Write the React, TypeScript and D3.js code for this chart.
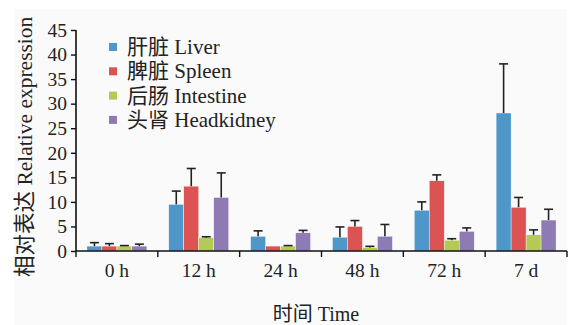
import React, { useRef, useEffect } from 'react';
import * as d3 from 'd3';

const categories = ['0 h', '12 h', '24 h', '48 h', '72 h', '7 d'];
const seriesNames = ['肝脏 Liver', '脾脏 Spleen', '后肠 Intestine', '头肾 Headkidney'];
const seriesColors = ['#4F97C9', '#DC5353', '#B4C956', '#8E7BB4'];

// mean values per series, one per time point
const liver = [1.0, 9.5, 3.0, 2.8, 8.3, 28.1];
const spleen = [1.0, 13.2, 1.0, 5.0, 14.3, 8.9];
const intestine = [1.0, 2.7, 1.0, 0.7, 2.2, 3.3];
const headkidney = [1.0, 10.9, 3.7, 3.0, 4.0, 6.3];

// upper error (SD) per series
const liverErr = [0.7, 2.7, 1.1, 2.1, 1.7, 10.0];
const spleenErr = [0.5, 3.6, 0, 1.2, 1.2, 2.0];
const intestineErr = [0.1, 0.2, 0.1, 0.25, 0.3, 1.0];
const headkidneyErr = [0.4, 5.0, 0.5, 2.4, 0.7, 2.2];

const yTicks = [0, 5, 10, 15, 20, 25, 30, 35, 40, 45];

const serif = '"Liberation Serif", "Times New Roman", "Noto Sans CJK SC", serif';

const App = () => {
    const svgRef = useRef(null);

    useEffect(() => {
        const svg = d3.select(svgRef.current);
        svg.selectAll('*').remove();

        const values = [liver, spleen, intestine, headkidney];
        const errors = [liverErr, spleenErr, intestineErr, headkidneyErr];

        const x = d3.scaleBand().domain(categories).range([76, 567]).paddingInner(0).paddingOuter(0);
        const xInner = d3.scaleBand().domain(seriesNames).range([0, x.bandwidth()]).paddingInner(0).paddingOuter(0.73);
        const y = d3.scaleLinear().domain([0, 45]).range([251, 30]);

        // light panel background
        svg.append('rect')
            .attr('x', 14).attr('y', 9)
            .attr('width', 553).attr('height', 316)
            .attr('fill', '#FAFAFA');

        // bars
        seriesNames.forEach((name, si) => {
            const g = svg.append('g');
            categories.forEach((cat, ci) => {
                const v = values[si][ci];
                const bx = x(cat) + xInner(name);
                g.append('rect')
                    .attr('x', bx)
                    .attr('y', y(v))
                    .attr('width', xInner.bandwidth())
                    .attr('height', y(0) - y(v))
                    .attr('fill', seriesColors[si])
                    .attr('stroke', '#ffffff')
                    .attr('stroke-width', 0.4);

                const e = errors[si][ci];
                if (e > 0) {
                    const cx = bx + xInner.bandwidth() / 2;
                    g.append('line')
                        .attr('x1', cx).attr('x2', cx)
                        .attr('y1', y(v)).attr('y2', y(v + e))
                        .attr('stroke', '#222').attr('stroke-width', 1.6);
                    g.append('line')
                        .attr('x1', cx - 4.5).attr('x2', cx + 4.5)
                        .attr('y1', y(v + e)).attr('y2', y(v + e))
                        .attr('stroke', '#222').attr('stroke-width', 1.6);
                }
            });
        });

        // y axis
        const yAxis = d3.axisLeft(y).tickValues(yTicks).tickSize(5).tickSizeOuter(0).tickPadding(4);
        const ya = svg.append('g').attr('transform', 'translate(76,0)').call(yAxis);
        ya.select('.domain').attr('stroke', '#111').attr('stroke-width', 1.6).attr('d', `M0,${y(45)}V${y(0)}`);
        ya.selectAll('.tick line').attr('stroke', '#111').attr('stroke-width', 1.4);
        ya.selectAll('.tick text')
            .attr('font-family', serif).attr('font-size', 19.5).attr('fill', '#222');

        // x axis: ticks at category boundaries
        svg.append('line')
            .attr('x1', 76).attr('x2', 567)
            .attr('y1', y(0)).attr('y2', y(0))
            .attr('stroke', '#111').attr('stroke-width', 1.6);
        const bounds = categories.map(c => x(c)).concat([x.range()[1]]);
        svg.append('g').selectAll('line')
            .data(bounds)
            .enter()
            .append('line')
            .attr('x1', d => d).attr('x2', d => d)
            .attr('y1', y(0)).attr('y2', y(0) + 6)
            .attr('stroke', '#111').attr('stroke-width', 1.4);
        svg.append('g').selectAll('text')
            .data(categories)
            .enter()
            .append('text')
            .attr('x', d => x(d) + x.bandwidth() / 2)
            .attr('y', 277)
            .attr('text-anchor', 'middle')
            .attr('font-family', serif).attr('font-size', 19.5).attr('fill', '#222')
            .text(d => d);

        // axis titles
        svg.append('text')
            .attr('x', 316).attr('y', 321)
            .attr('text-anchor', 'middle')
            .attr('font-family', serif).attr('font-size', 20).attr('fill', '#222')
            .text('时间 Time');
        svg.append('text')
            .attr('transform', 'translate(32,277) rotate(-90)')
            .attr('text-anchor', 'start')
            .attr('font-family', serif).attr('font-size', 21.5).attr('fill', '#222')
            .text('相对表达 Relative expression');

        // legend
        const legend = svg.append('g').selectAll('g')
            .data(seriesNames)
            .enter()
            .append('g')
            .attr('transform', (d, i) => `translate(109,${43 + i * 24.3})`);
        legend.append('rect')
            .attr('width', 8).attr('height', 8)
            .attr('fill', (d, i) => seriesColors[i]);
        legend.append('text')
            .attr('x', 18).attr('y', 11)
            .attr('font-family', serif).attr('font-size', 21).attr('fill', '#222')
            .text(d => d);
    }, []);

    return (
        <svg ref={svgRef} width={575} height={325} style={{ position: 'absolute', left: 0, top: 0 }}></svg>
    );
};

export default App;
